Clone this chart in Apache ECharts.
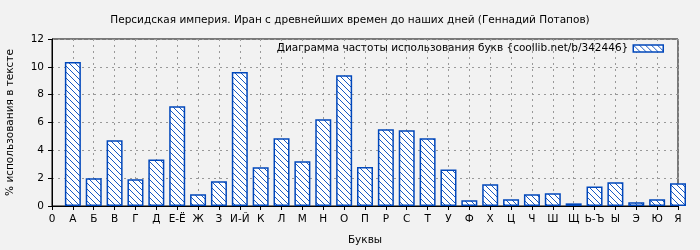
<!DOCTYPE html>
<html><head><meta charset="utf-8">
<script src="https://cdn.jsdelivr.net/npm/echarts@6/dist/echarts.min.js"></script>
<style>html,body{margin:0;padding:0;background:#f2f2f2}#c{width:700px;height:250px}</style>
</head><body><div id="c"></div>
<script>
const categories = ["0","А","Б","В","Г","Д","Е-Ё","Ж","З","И-Й","К","Л","М","Н","О","П","Р","С","Т","У","Ф","Х","Ц","Ч","Ш","Щ","Ь-Ъ","Ы","Э","Ю","Я"];
const letters = ["А","Б","В","Г","Д","Е-Ё","Ж","З","И-Й","К","Л","М","Н","О","П","Р","С","Т","У","Ф","Х","Ц","Ч","Ш","Щ","Ь-Ъ","Ы","Э","Ю","Я"];
const values = [10.35,2.0,4.72,1.93,3.35,7.17,0.84,1.77,9.62,2.78,4.86,3.21,6.23,9.4,2.8,5.51,5.45,4.86,2.63,0.41,1.56,0.48,0.84,0.91,0.19,1.41,1.70,0.27,0.48,1.63];
const yTicks = [0,2,4,6,8,10,12];
const titleText = "Персидская империя. Иран с древнейших времен до наших дней (Геннадий Потапов)";
const seriesName = "Диаграмма частоты использования букв {coollib.net/b/342446}";

function hatch(){
  const c=document.createElement('canvas');c.width=6;c.height=6;
  const g=c.getContext('2d');
  g.fillStyle='#ffffff';g.fillRect(0,0,6,6);
  g.strokeStyle='#0047bb';g.lineWidth=0.9;
  g.beginPath();g.moveTo(-1,-1);g.lineTo(7,7);g.stroke();
  g.beginPath();g.moveTo(-1,5);g.lineTo(1,7);g.stroke();
  g.beginPath();g.moveTo(5,-1);g.lineTo(7,1);g.stroke();
  return c;
}
const pat={image:hatch(),repeat:'repeat'};
const font='DejaVu Sans';
const fs=10.5;
const chart=echarts.init(document.getElementById('c'));
chart.setOption({
  backgroundColor:'#f2f2f2',
  animation:false,
  textStyle:{fontFamily:font},
  title:{text:titleText,left:'center',top:10,textStyle:{fontSize:fs,fontWeight:'normal',color:'#000',fontFamily:font}},
  legend:{data:[{name:seriesName,icon:'rect'}],right:31,top:38,align:'right',itemWidth:30,itemHeight:7,itemGap:10,
    textStyle:{fontSize:fs,color:'#000',fontFamily:font},
    itemStyle:{color:pat,borderColor:'#0047bb',borderWidth:1.5}},
  grid:{left:52,right:22,top:39,bottom:44,show:true,borderColor:'#000',borderWidth:1,backgroundColor:'transparent',outerBoundsMode:'none',containLabel:false},
  xAxis:{type:'value',min:0,max:30,interval:1,name:'Буквы',nameLocation:'middle',nameGap:29,
    nameTextStyle:{fontSize:fs,color:'#000',fontFamily:font},
    axisLine:{lineStyle:{color:'#000'}},axisTick:{show:true,length:4,lineStyle:{color:'#000'}},
    axisLabel:{color:'#000',fontSize:fs,fontFamily:font,margin:8,formatter:v=>categories[v]},
    splitLine:{show:true,lineStyle:{color:'#999',type:[2,4]}}},
  yAxis:{type:'value',min:0,max:12,interval:2,name:'% использования в тексте',nameLocation:'middle',nameGap:36,
    nameTextStyle:{fontSize:fs,color:'#000',fontFamily:font},
    axisLine:{show:true,lineStyle:{color:'#000'}},axisTick:{show:true,length:4,lineStyle:{color:'#000'}},
    axisLabel:{color:'#000',fontSize:fs,fontFamily:font,margin:8,formatter:v=>yTicks.includes(v)?String(v):''},
    splitLine:{show:true,lineStyle:{color:'#999',type:[2,4]}}},
  series:[{name:seriesName,type:'bar',barWidth:16,clip:true,
    data:letters.map((l,i)=>[i+1,values[i]]),
    itemStyle:{color:pat,borderColor:'#0047bb',borderWidth:1.5}}]
});
</script></body></html>
